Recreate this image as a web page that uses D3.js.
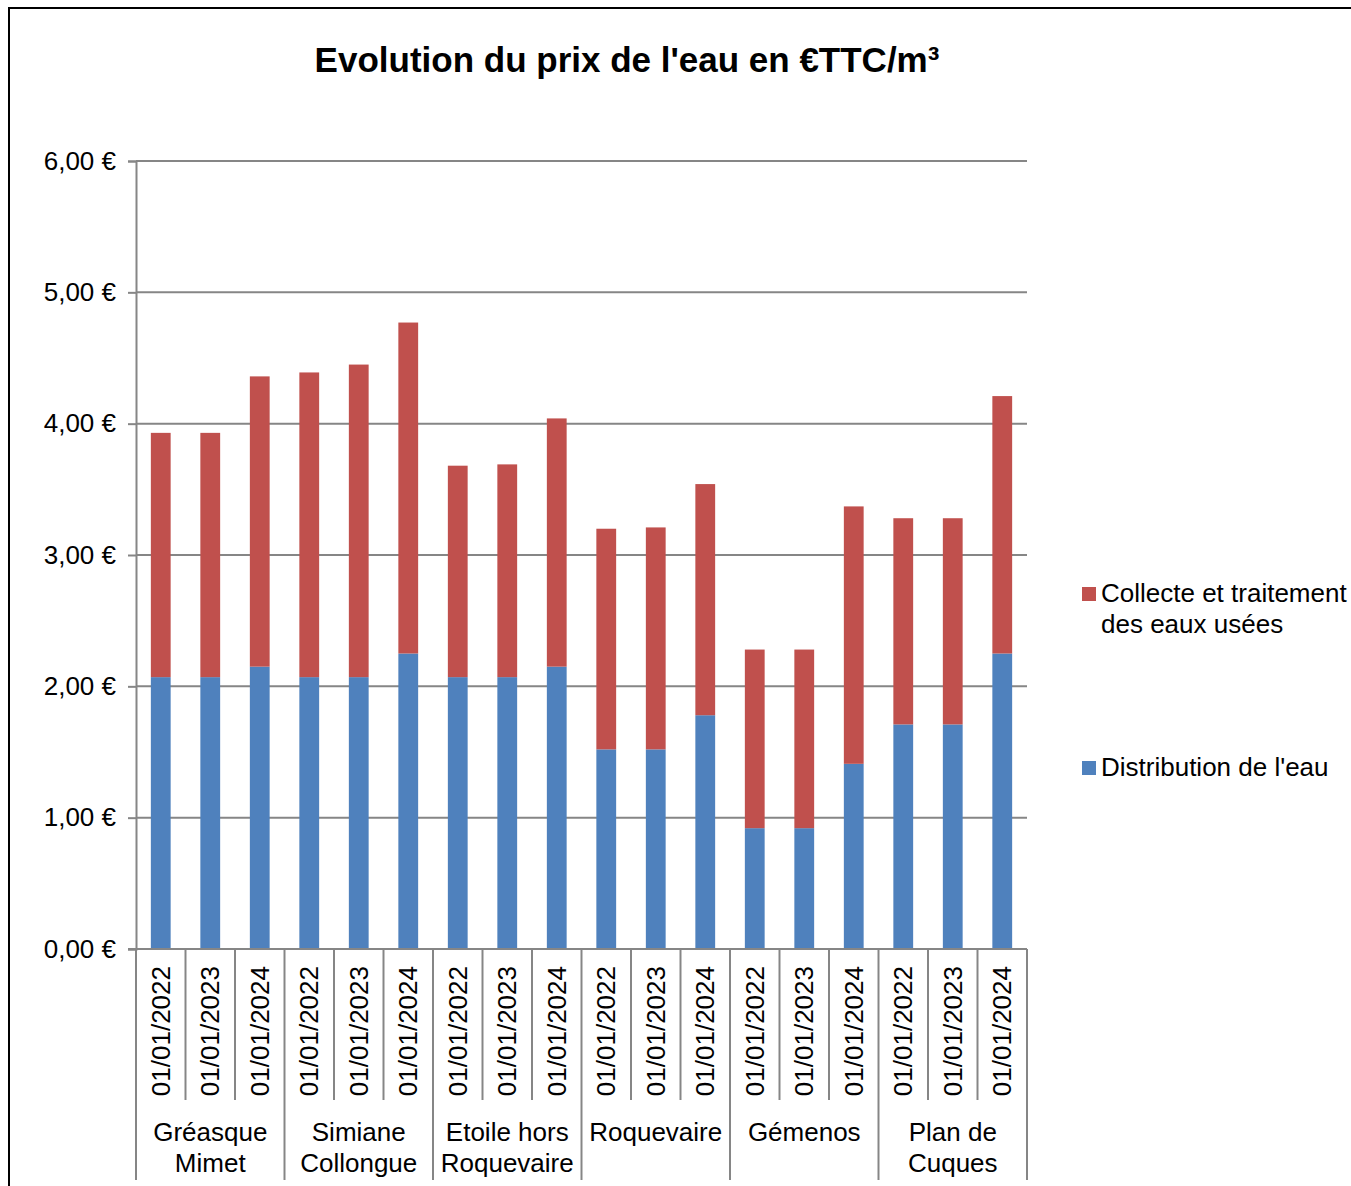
<!DOCTYPE html>
<html>
<head>
<meta charset="utf-8">
<script src="https://cdn.jsdelivr.net/npm/d3@7"></script>
<style>
  body { margin: 0; background: #fff; }
  text { font-family: "Liberation Sans", Arial, sans-serif; fill: #000; }
</style>
</head>
<body>
<script>
// communes (groupes) et dates
var communes = [["Gréasque", "Mimet"], ["Simiane", "Collongue"], ["Etoile hors", "Roquevaire"],
                ["Roquevaire"], ["Gémenos"], ["Plan de", "Cuques"]];
var dates = ["01/01/2022", "01/01/2023", "01/01/2024"];

// €TTC/m3
var distribution = [2.07, 2.07, 2.15, 2.07, 2.07, 2.25, 2.07, 2.07, 2.15,
                    1.52, 1.52, 1.78, 0.92, 0.92, 1.41, 1.71, 1.71, 2.25];
var collecte = [1.86, 1.86, 2.21, 2.32, 2.38, 2.52, 1.61, 1.62, 1.89,
                1.68, 1.69, 1.76, 1.36, 1.36, 1.96, 1.57, 1.57, 1.96];

var yTicks = [0, 1, 2, 3, 4, 5, 6];
var colors = ["#4F81BD", "#C0504D"];

var Width = 1351, Height = 1186;
var plotLeft = 136, plotRight = 1027, plotTop = 161, plotBottom = 949;

var svg = d3.select("body").append("svg")
  .attr("width", Width)
  .attr("height", Height);

// cadre
svg.append("rect")
  .attr("x", 9).attr("y", 8)
  .attr("width", 1400).attr("height", 1400)
  .attr("fill", "none").attr("stroke", "#000").attr("stroke-width", 2);

// titre
svg.append("text")
  .attr("x", 627).attr("y", 72)
  .attr("text-anchor", "middle")
  .style("font-size", "35px").style("font-weight", "bold")
  .text("Evolution du prix de l'eau en €TTC/m³");

// donnees par barre
var rows = [];
communes.forEach(function(c, gi) {
  dates.forEach(function(d, di) {
    var i = gi * dates.length + di;
    rows.push({ key: i, commune: gi, date: d, distribution: distribution[i], collecte: collecte[i] });
  });
});

var x = d3.scaleBand()
  .domain(rows.map(function(r) { return r.key; }))
  .range([plotLeft, plotRight])
  .paddingInner(0.6)
  .paddingOuter(0.3);

var y = d3.scaleLinear().domain([0, 6]).range([plotBottom, plotTop]);

// grille
svg.append("g").selectAll("line")
  .data(yTicks.slice(1))
  .enter().append("line")
  .attr("x1", plotLeft).attr("x2", plotRight)
  .attr("y1", function(d) { return y(d); })
  .attr("y2", function(d) { return y(d); })
  .attr("stroke", "#868686").attr("stroke-width", 2);

// axe y
var yAxis = svg.append("g")
  .attr("transform", "translate(" + plotLeft + ",0)")
  .call(d3.axisLeft(y).tickValues(yTicks).tickSize(8).tickPadding(12)
    .tickFormat(function(d) { return d3.format(".2f")(d).replace(".", ",") + " €"; }));
yAxis.select(".domain").attr("stroke", "#868686").attr("stroke-width", 2);
yAxis.selectAll(".tick line").attr("stroke", "#868686").attr("stroke-width", 2);
yAxis.selectAll(".tick text")
  .style("font-size", "26px")
  .style("font-family", "'Liberation Sans', Arial, sans-serif")
  .attr("fill", "#000");

// barres empilees
var stack = d3.stack().keys(["distribution", "collecte"]);
var layers = stack(rows);

svg.append("g").selectAll("g")
  .data(layers)
  .enter().append("g")
  .attr("fill", function(d, i) { return colors[i]; })
  .selectAll("rect")
  .data(function(d) { return d; })
  .enter().append("rect")
  .attr("x", function(d) { return x(d.data.key); })
  .attr("width", x.bandwidth())
  .attr("y", function(d) { return y(d[1]); })
  .attr("height", function(d) { return y(d[0]) - y(d[1]); });

// axe x (ligne de base)
svg.append("line")
  .attr("x1", plotLeft - 8).attr("x2", plotRight)
  .attr("y1", plotBottom).attr("y2", plotBottom)
  .attr("stroke", "#868686").attr("stroke-width", 2);

// separateurs de categories
var step = x.step();
var bounds = d3.range(rows.length + 1);
svg.append("g").selectAll("line")
  .data(bounds)
  .enter().append("line")
  .attr("x1", function(d) { return plotLeft + d * step; })
  .attr("x2", function(d) { return plotLeft + d * step; })
  .attr("y1", plotBottom)
  .attr("y2", function(d) { return d % dates.length === 0 ? 1180 : 1100; })
  .attr("stroke", "#868686").attr("stroke-width", 2);

// dates verticales
svg.append("g").selectAll("text")
  .data(rows)
  .enter().append("text")
  .attr("transform", function(d) {
    return "translate(" + (x(d.key) + x.bandwidth() / 2 + 9) + "," + 966 + ") rotate(-90)";
  })
  .attr("text-anchor", "end")
  .style("font-size", "26px")
  .text(function(d) { return d.date; });

// noms des communes
var groupW = step * dates.length;
var g = svg.append("g").selectAll("text")
  .data(communes)
  .enter().append("text")
  .attr("x", function(d, i) { return plotLeft + i * groupW + groupW / 2; })
  .attr("y", 1141)
  .attr("text-anchor", "middle")
  .style("font-size", "26px");
g.selectAll("tspan")
  .data(function(d) { return d; })
  .enter().append("tspan")
  .attr("x", function() { return d3.select(this.parentNode).attr("x"); })
  .attr("dy", function(d, i) { return i === 0 ? 0 : 31; })
  .text(function(d) { return d; });

// legende
var legend = [
  { color: colors[1], lines: ["Collecte et traitement", "des eaux usées"], y: 587 },
  { color: colors[0], lines: ["Distribution de l'eau"], y: 761 }
];
legend.forEach(function(l) {
  svg.append("rect")
    .attr("x", 1082).attr("y", l.y)
    .attr("width", 14).attr("height", 14)
    .attr("fill", l.color);
  var t = svg.append("text")
    .attr("x", 1101).attr("y", l.y + 15)
    .style("font-size", "26px");
  l.lines.forEach(function(s, i) {
    t.append("tspan").attr("x", 1101).attr("dy", i === 0 ? 0 : 31).text(s);
  });
});
</script>
</body>
</html>
